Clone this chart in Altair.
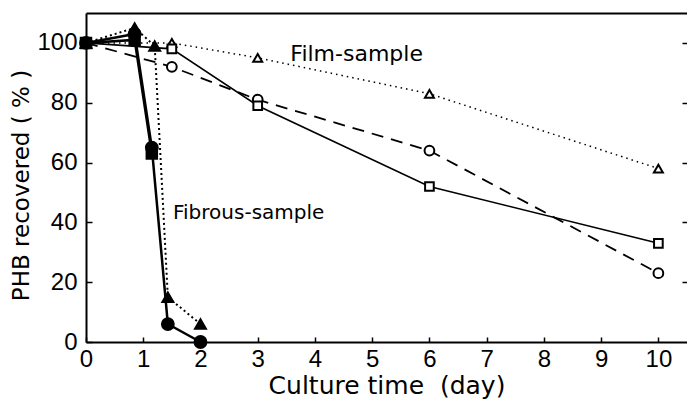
import altair as alt
import pandas as pd

# ---- data ----
x_film = [0, 1.5, 3, 6, 10]
film_triangle = [100, 100, 95, 83, 58]
film_circle = [100, 92, 81, 64, 23]
film_square = [100, 98, 79, 52, 33]

x_fib_triangle = [0, 0.85, 1.2, 1.43, 2]
fib_triangle = [100, 105, 99, 15, 6]
x_fib_circle = [0, 0.85, 1.15, 1.43, 2]
fib_circle = [100, 103, 65, 6, 0]
x_fib_square = [0, 0.85, 1.15]
fib_square = [100, 101, 63]

x_ticks = list(range(0, 11))
y_ticks = [0, 20, 40, 60, 80, 100]

film_label = ["Film-sample"]
film_label_x = [3.57]
film_label_y = [96.3]
fib_label = ["Fibrous-sample"]
fib_label_x = [1.52]
fib_label_y = [43]

W, H = 601, 329
xscale = alt.Scale(domain=[0, 10.5], nice=False, zero=False)
yscale = alt.Scale(domain=[0, 110], nice=False, zero=False)

TICKFONT = "Liberation Sans"
TITLEFONT = "DejaVu Sans"

# main axes (labels + domain)
ax_main_x = alt.Axis(orient="bottom", values=x_ticks, ticks=False, tickSize=0, grid=False,
                     labelFont=TICKFONT, labelFontSize=24, labelColor="black", labelPadding=5,
                     labelFlush=False, labelOverlap=False,
                     domainColor="black", domainWidth=2,
                     title="Culture time\u00a0\u00a0(day)", titleFont=TITLEFONT, titleFontSize=25,
                     titleFontWeight="normal", titleColor="black", titleBaseline="alphabetic",
                     titleY=51)
ax_main_y = alt.Axis(orient="left", values=y_ticks, ticks=False, tickSize=0, grid=False,
                     labelFont=TICKFONT, labelFontSize=24, labelColor="black", labelPadding=9,
                     labelFlush=False, labelOverlap=False,
                     domainColor="black", domainWidth=2,
                     title="PHB recovered (\u00a0%\u00a0)", titleFont=TITLEFONT, titleFontSize=23,
                     titleFontWeight="normal", titleColor="black", titleBaseline="middle",
                     titleX=-65, titleY=172)
# inward ticks: bottom edge (pointing up) and left edge (pointing right)
ax_in_x = alt.Axis(orient="top", offset=-H, values=x_ticks, ticks=True, tickSize=5, tickWidth=1.5,
                   tickColor="black", labels=False, domain=False, grid=False, title="")
ax_in_y = alt.Axis(orient="right", offset=-W, values=y_ticks, ticks=True, tickSize=6, tickWidth=1.5,
                   tickColor="black", labels=False, domain=False, grid=False, title="")
# top border and right-edge ticks (pointing left)
ax_top_x = alt.Axis(orient="top", values=x_ticks, ticks=False, tickSize=0, labels=False,
                    domain=True, domainColor="black", domainWidth=2, grid=False, title="")
ax_right_y = alt.Axis(orient="left", offset=-W, values=y_ticks[1:], ticks=True, tickSize=5,
                      tickWidth=1.5, tickColor="black", labels=False, domain=False, grid=False, title="")


def series(xs, ys, shape, filled, dash, lw, size, axx=None, axy=None):
    df = pd.DataFrame({"x": xs, "y": ys})
    base = alt.Chart(df)
    line_kwargs = dict(color="black", strokeWidth=lw, clip=False)
    if dash:
        line_kwargs["strokeDash"] = dash
    if axx is not None:
        ex = alt.X("x:Q", scale=xscale, axis=axx)
        ey = alt.Y("y:Q", scale=yscale, axis=axy)
    else:
        ex = alt.X("x:Q", scale=xscale, axis=None)
        ey = alt.Y("y:Q", scale=yscale, axis=None)
    line = base.mark_line(**line_kwargs).encode(x=ex, y=ey)
    pts = base.mark_point(shape=shape, filled=True, fill=("black" if filled else "white"),
                          stroke="black", strokeWidth=2, size=size, opacity=1).encode(
        x=alt.X("x:Q", scale=xscale, axis=None),
        y=alt.Y("y:Q", scale=yscale, axis=None))
    return [line, pts]


layers = []
layers += series(x_film, film_triangle, "triangle-up", False, [1.5, 4], 1.5, 80, ax_main_x, ax_main_y)
layers += series(x_film, film_circle, "circle", False, [12, 8], 1.8, 95, ax_in_x, ax_in_y)
layers += series(x_film, film_square, "square", False, None, 1.6, 75, ax_top_x, ax_right_y)
layers += series(x_fib_triangle, fib_triangle, "triangle-up", True, [2, 3], 2, 120)
layers += series(x_fib_square, fib_square, "square", True, None, 2.5, 110)
layers += series(x_fib_circle, fib_circle, "circle", True, None, 2.5, 140)

t1 = alt.Chart(pd.DataFrame({"x": film_label_x, "y": film_label_y, "t": film_label})).mark_text(
    align="left", baseline="middle", font=TITLEFONT, fontSize=22, color="black").encode(
    x=alt.X("x:Q", scale=xscale, axis=None), y=alt.Y("y:Q", scale=yscale, axis=None), text="t:N")
t2 = alt.Chart(pd.DataFrame({"x": fib_label_x, "y": fib_label_y, "t": fib_label})).mark_text(
    align="left", baseline="middle", font=TITLEFONT, fontSize=20, color="black").encode(
    x=alt.X("x:Q", scale=xscale, axis=None), y=alt.Y("y:Q", scale=yscale, axis=None), text="t:N")
layers += [t1, t2]

chart = alt.layer(*layers).resolve_axis(x="independent", y="independent").properties(
    width=W, height=H,
    autosize=alt.AutoSizeParams(type="none"),
    padding={"left": 86, "top": 13, "right": 0, "bottom": 58},
    background="white",
).configure_view(stroke="transparent")

chart.save("out.html", embed_options={"renderer": "svg", "actions": False})
